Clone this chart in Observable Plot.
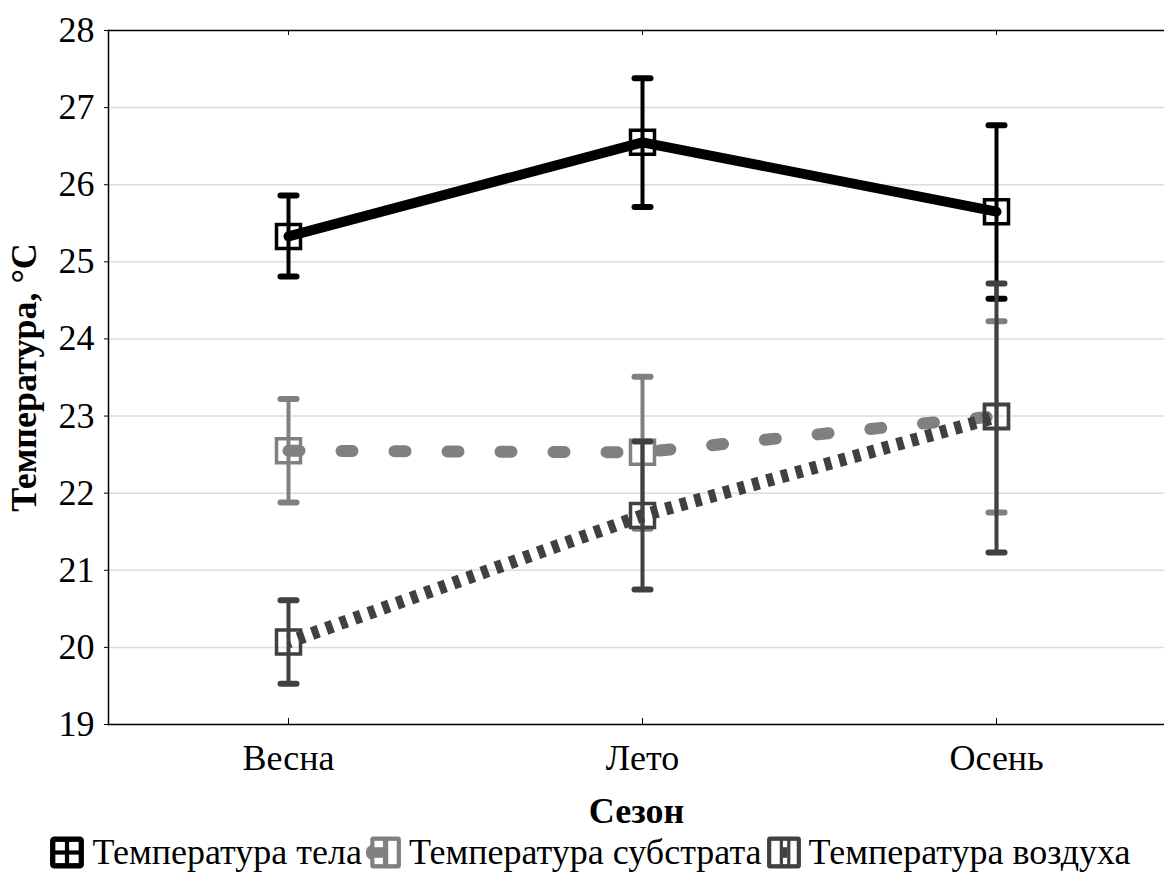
<!DOCTYPE html>
<html>
<head>
<meta charset="utf-8">
<script src="https://cdn.jsdelivr.net/npm/d3@7"></script>
<script src="https://cdn.jsdelivr.net/npm/@observablehq/plot@0.6"></script>
<style>
  html, body { margin: 0; padding: 0; background: #fff; }
  #chart svg { display: block; overflow: hidden; }
  g[aria-label="y-axis label"] text, g[aria-label="x-axis label"] text { font-weight: bold; }
  #legend { width: 1164px; box-sizing: border-box; padding-left: 16px; display: flex; justify-content: center; align-items: center;
    font-family: "Liberation Serif", serif; font-size: 36px; color: #000;
    margin-top: 2px; line-height: 40px; }
  #legend .item { display: flex; align-items: center; margin: 0 2px; }
  #legend span { font-family: "Liberation Serif", serif; }
  #legend svg { margin-right: 7px; flex: none; }
</style>
</head>
<body>
<div id="chart"></div>
<div id="legend"></div>
<script>
const seasons = ["Весна", "Лето", "Осень"];
const seriesNames = ["Температура тела", "Температура субстрата", "Температура воздуха"];
const bodyMean = [25.33, 26.55, 25.65];
const bodyLow  = [24.81, 25.71, 24.52];
const bodyHigh = [25.86, 27.38, 26.77];
const subMean  = [22.55, 22.53, 23.00];
const subLow   = [21.88, 21.54, 21.75];
const subHigh  = [23.22, 23.51, 24.23];
const airMean  = [20.07, 21.71, 22.99];
const airLow   = [19.53, 20.75, 21.23];
const airHigh  = [20.61, 22.67, 24.72];
const yTicks = [19, 20, 21, 22, 23, 24, 25, 26, 27, 28];
const colors = ["#000000", "#808080", "#404040"];

function rows(mean, low, high, name) {
  return seasons.map((s, i) => ({season: s, mean: mean[i], low: low[i], high: high[i], series: name}));
}
const body = rows(bodyMean, bodyLow, bodyHigh, seriesNames[0]);
const sub = rows(subMean, subLow, subHigh, seriesNames[1]);
const air = rows(airMean, airLow, airHigh, seriesNames[2]);

const capSym = {draw(ctx, size) { const r = Math.sqrt(size / Math.PI); ctx.moveTo(-r, 0); ctx.lineTo(r, 0); }};
const sqSym = {draw(ctx, size) { const r = Math.sqrt(size / Math.PI);
  ctx.moveTo(-r, -r); ctx.lineTo(r, -r); ctx.lineTo(r, r); ctx.lineTo(-r, r); ctx.closePath(); }};

function errMarks(data, color) {
  return [
    Plot.ruleX(data, {x: "season", y1: "low", y2: "high", stroke: color, strokeWidth: 4}),
    Plot.dot(data, {x: "season", y: "low", symbol: capSym, r: 8, stroke: color, strokeWidth: 6, strokeLinecap: "round", fill: "none"}),
    Plot.dot(data, {x: "season", y: "high", symbol: capSym, r: 8, stroke: color, strokeWidth: 6, strokeLinecap: "round", fill: "none"}),
    Plot.dot(data, {x: "season", y: "mean", symbol: sqSym, r: 12, stroke: color, strokeWidth: 3.5, fill: "none"})
  ];
}

const chart = Plot.plot({
  width: 1164, height: 830,
  marginTop: 30, marginLeft: 108, marginRight: 0, marginBottom: 106,
  style: {fontFamily: "'Liberation Serif', 'Times New Roman', serif", fontSize: "36px", color: "#000", background: "#fff"},
  x: {type: "point", domain: seasons, range: [287, 996], padding: 0},
  y: {domain: [19, 28]},
  marks: [
    Plot.gridY(yTicks.slice(1, -1), {stroke: "#dcdcdc", strokeOpacity: 1, strokeWidth: 1.5}),
    Plot.frame({anchor: "left", stroke: "#000", strokeWidth: 1.5}),
    Plot.frame({anchor: "top", stroke: "#000", strokeWidth: 1.5}),
    Plot.frame({anchor: "bottom", stroke: "#000", strokeWidth: 1.5}),
    Plot.axisY(yTicks, {tickSize: 4, tickPadding: 10, tickFormat: "d", label: "Температура, °С", labelAnchor: "center", labelOffset: 98, labelArrow: "none"}),
    Plot.axisX({anchor: "top", tickSize: 4, dy: 4, tickFormat: () => "", label: null}),
    Plot.axisX({anchor: "bottom", tickSize: 6, dy: -6, tickFormat: () => "", label: null}),
    Plot.axisX({anchor: "bottom", tickSize: 0, tickPadding: 20, label: "Сезон", labelAnchor: "center", labelOffset: 98, labelArrow: "none"}),
    ...errMarks(body, colors[0]),
    Plot.line(body, {x: "season", y: "mean", stroke: colors[0], strokeWidth: 10, strokeLinecap: "round"}),
    ...errMarks(sub, colors[1]),
    Plot.line(sub, {x: "season", y: "mean", stroke: colors[1], strokeWidth: 12, strokeLinecap: "round", strokeDasharray: "11,42"}),
    ...errMarks(air, colors[2]),
    Plot.line(air, {x: "season", y: "mean", stroke: colors[2], strokeWidth: 13, strokeLinecap: "butt", strokeDasharray: "7,8", strokeDashoffset: 5})
  ]
});
document.getElementById("chart").appendChild(chart);

// legend
const icons = [
  `<svg width="36" height="35" viewBox="0 0 34 32"><rect x="1" y="1" width="32" height="30" rx="4" fill="#000"/>
    <rect x="6" y="6" width="9" height="8" fill="#fff"/><rect x="19" y="6" width="9" height="8" fill="#fff"/>
    <rect x="6" y="18" width="9" height="8" fill="#fff"/><rect x="19" y="18" width="9" height="8" fill="#fff"/></svg>`,
  `<svg width="36" height="35" viewBox="0 0 34 32"><rect x="4" y="1" width="29" height="30" rx="3" fill="#808080"/>
    <rect x="0" y="9" width="12" height="14" rx="6" fill="#808080"/>
    <rect x="8" y="5" width="8" height="6" fill="#fff"/><rect x="8" y="21" width="8" height="6" fill="#fff"/>
    <rect x="21" y="5" width="8" height="22" fill="#fff"/></svg>`,
  `<svg width="36" height="35" viewBox="0 0 34 32"><rect x="1" y="1" width="32" height="30" rx="3" fill="#404040"/>
    <rect x="5" y="5" width="8" height="22" fill="#fff"/><rect x="16" y="5" width="4" height="22" fill="#fff"/>
    <rect x="23" y="5" width="6" height="22" fill="#fff"/><rect x="16" y="11" width="4" height="10" fill="#404040"/></svg>`
];
const legend = document.getElementById("legend");
seriesNames.forEach((name, i) => {
  const item = document.createElement("div");
  item.className = "item";
  item.innerHTML = icons[i] + `<span>${name}</span>`;
  legend.appendChild(item);
});
</script>
</body>
</html>
